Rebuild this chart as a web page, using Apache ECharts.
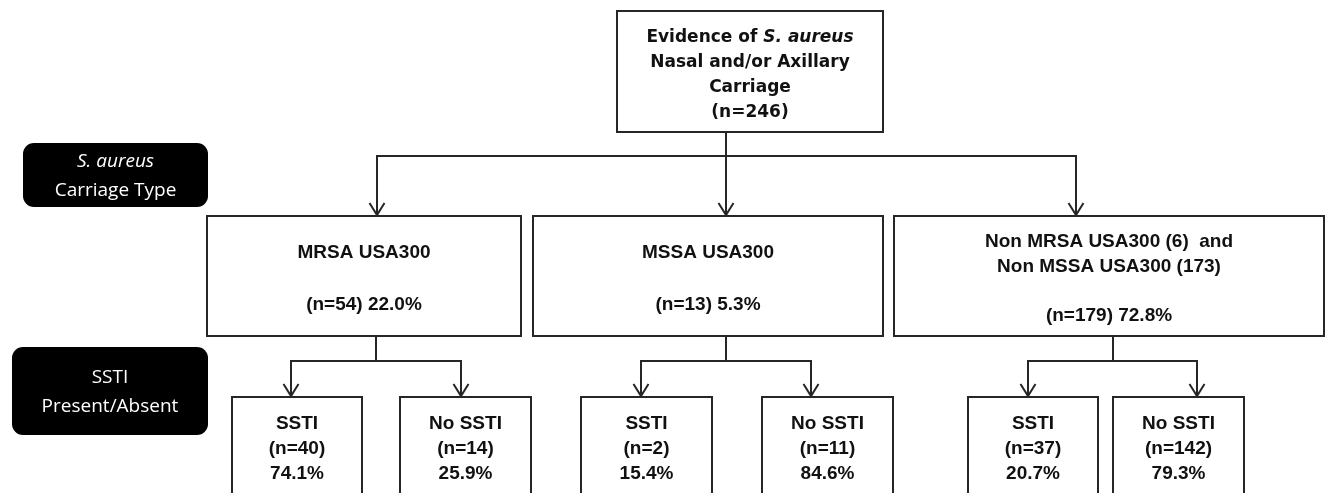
<!DOCTYPE html>
<html>
<head>
<meta charset="utf-8">
<title>S. aureus carriage and SSTI</title>
<script src="https://cdn.jsdelivr.net/npm/echarts@6/dist/echarts.min.js"></script>
<style>
  html, body { margin: 0; padding: 0; background: #fff; }
  #main { width: 1327px; height: 493px; }
</style>
</head>
<body>
<div id="main"></div>
<script>
// ---- data ----
var rootN = 246;
var typeNames = ['MRSA USA300', 'MSSA USA300', 'Non MRSA USA300 (6)  and\nNon MSSA USA300 (173)'];
var typeN = [54, 13, 179];
var typePct = ['22.0%', '5.3%', '72.8%'];
var sstiNames = ['SSTI', 'No SSTI', 'SSTI', 'No SSTI', 'SSTI', 'No SSTI'];
var sstiN = [40, 14, 2, 11, 37, 142];
var sstiPct = ['74.1%', '25.9%', '15.4%', '84.6%', '20.7%', '79.3%'];
var rowLabels = [['S. aureus', 'Carriage Type'], ['SSTI', 'Present/Absent']];

// ---- layout (axis units = px of the page) ----
var rootBox = [617, 11, 883, 132];
var typeBoxes = [[207, 216, 521, 336], [533, 216, 883, 336], [894, 216, 1324, 336]];
var sstiBoxes = [[232, 397, 362, 520], [400, 397, 531, 520], [581, 397, 712, 520],
                 [762, 397, 893, 520], [968, 397, 1098, 520], [1113, 397, 1244, 520]];
var rowBoxes = [[23, 143, 208, 207], [12, 347, 208, 435]];
var rootStemX = 726, rootBusY = 156;
var typeArrowX = [377, 726, 1076];
var typeStemX = [376, 726, 1113], typeBusY = 361;
var sstiArrowX = [291, 461, 641, 811, 1028, 1197];

var LINE = '#262626';
var boldFont = '"Liberation Sans", Arial, sans-serif';

// box texts
var boxes = [];
var boxText = [];
boxes.push(rootBox);
boxText.push({
  ty: 64,
  text: '{n|Evidence of }{i|S. aureus}\n{n|Nasal and/or Axillary}\n{n|Carriage}\n{n|(n=' + rootN + ')}',
  rich: {
    n: { fontFamily: '"DejaVu Sans", sans-serif', fontWeight: 'bold', fontSize: 17, lineHeight: 25, fill: '#111' },
    i: { fontFamily: '"DejaVu Sans", sans-serif', fontWeight: 'bold', fontStyle: 'italic', fontSize: 17, lineHeight: 25, fill: '#111' }
  }
});
typeBoxes.forEach(function (b, i) {
  boxes.push(b);
  var two = typeNames[i].indexOf('\n') >= 0;
  boxText.push({
    ty: two ? 63 : 63,
    text: typeNames[i] + '\n\n(n=' + typeN[i] + ') ' + typePct[i],
    lineHeight: two ? 24.5 : 26
  });
});
sstiBoxes.forEach(function (b, i) {
  boxes.push(b);
  boxText.push({
    ty: 52,
    text: sstiNames[i] + '\n(n=' + sstiN[i] + ')\n' + sstiPct[i],
    lineHeight: 25
  });
});

// links: [fromX, fromY, busY, toX, toY]
var links = [];
typeArrowX.forEach(function (x, i) {
  links.push([rootStemX, rootBox[3], rootBusY, x, typeBoxes[i][1]]);
});
sstiArrowX.forEach(function (x, j) {
  var p = Math.floor(j / 2);
  links.push([typeStemX[p], typeBoxes[p][3], typeBusY, x, sstiBoxes[j][1]]);
});

function boxItem(params, api) {
  var p0 = api.coord([api.value(0), api.value(1)]);
  var p1 = api.coord([api.value(2), api.value(3)]);
  var t = boxText[params.dataIndex];
  var st = {
    text: t.text, align: 'center', verticalAlign: 'middle', fill: '#111',
    fontFamily: boldFont, fontWeight: 'bold', fontSize: 19, lineHeight: t.lineHeight
  };
  if (t.rich) st.rich = t.rich;
  return {
    type: 'group',
    children: [
      { type: 'rect', shape: { x: p0[0], y: p0[1], width: p1[0] - p0[0], height: p1[1] - p0[1] },
        style: { fill: '#fff', stroke: LINE, lineWidth: 2 } },
      { type: 'text', x: (p0[0] + p1[0]) / 2, y: p0[1] + t.ty, style: st }
    ]
  };
}

function linkItem(params, api) {
  var a = api.coord([api.value(0), api.value(1)]);
  var b = api.coord([api.value(0), api.value(2)]);
  var c = api.coord([api.value(3), api.value(2)]);
  var d = api.coord([api.value(3), api.value(4)]);
  return {
    type: 'group',
    children: [
      { type: 'polyline', shape: { points: [a, b, c, d] },
        style: { fill: null, stroke: LINE, lineWidth: 2 } },
      { type: 'polyline', shape: { points: [[d[0] - 7.5, d[1] - 13], [d[0], d[1] - 1], [d[0] + 7.5, d[1] - 13]] },
        style: { fill: null, stroke: LINE, lineWidth: 2 } }
    ]
  };
}

function rowItem(params, api) {
  var p0 = api.coord([api.value(0), api.value(1)]);
  var p1 = api.coord([api.value(2), api.value(3)]);
  var lab = rowLabels[params.dataIndex];
  var first = params.dataIndex === 0 ? '{i|' + lab[0] + '}' : '{n|' + lab[0] + '}';
  var fam = '"Open Sans", "Noto Sans", sans-serif';
  return {
    type: 'group',
    children: [
      { type: 'rect', shape: { x: p0[0], y: p0[1], width: p1[0] - p0[0], height: p1[1] - p0[1], r: 11 },
        style: { fill: '#000' } },
      { type: 'text', x: (p0[0] + p1[0]) / 2, y: (p0[1] + p1[1]) / 2 + 1,
        style: {
          text: first + '\n{n|' + lab[1] + '}', align: 'center', verticalAlign: 'middle',
          rich: {
            n: { fontFamily: fam, fontSize: 19, lineHeight: 29, fill: '#fff' },
            i: { fontFamily: fam, fontStyle: 'italic', fontSize: 19, lineHeight: 29, fill: '#fff' }
          }
        } }
    ]
  };
}

var chart = echarts.init(document.getElementById('main'), null, { renderer: 'canvas' });
chart.setOption({
  backgroundColor: '#fff',
  animation: false,
  grid: { left: 0, right: 0, top: 0, bottom: 0 },
  xAxis: { type: 'value', min: 0, max: 1327, show: false },
  yAxis: { type: 'value', min: 0, max: 493, inverse: true, show: false },
  series: [
    { type: 'custom', name: 'links', renderItem: linkItem, data: links, clip: false, silent: true },
    { type: 'custom', name: 'boxes', renderItem: boxItem, data: boxes, clip: false, silent: true },
    { type: 'custom', name: 'rows', renderItem: rowItem, data: rowBoxes, clip: false, silent: true }
  ]
});
</script>
</body>
</html>
